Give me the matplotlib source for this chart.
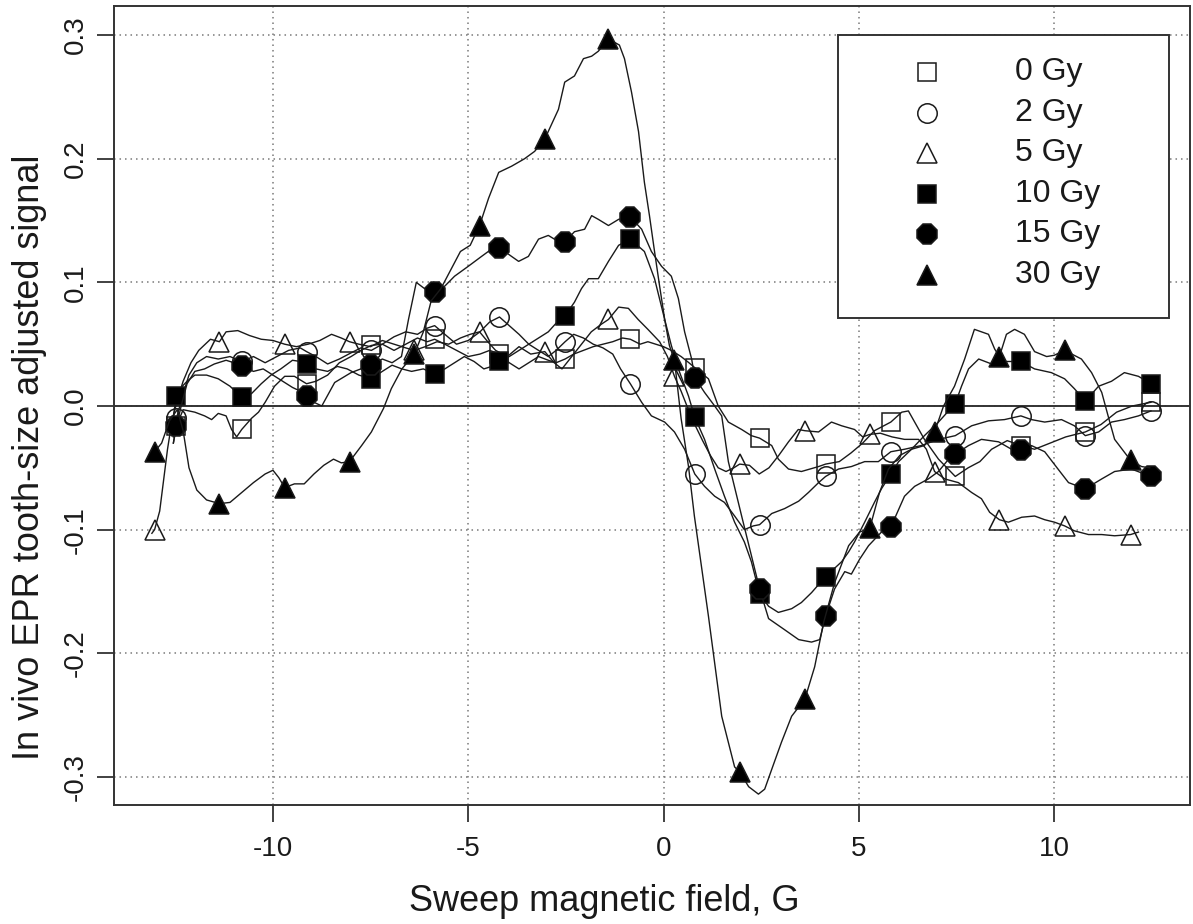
import numpy as np
import matplotlib
matplotlib.use('Agg')
import matplotlib.pyplot as plt
from matplotlib.patches import Rectangle

plt.rcParams['font.family'] = ['Liberation Sans', 'DejaVu Sans']

doses = ['0 Gy', '2 Gy', '5 Gy', '10 Gy', '15 Gy', '30 Gy']

# field positions where symbols sit (5/30 Gy share one grid, the rest the other)
marks_a = [-13.03, -11.37, -9.7, -8.04, -6.38, -4.71, -3.04, -1.41, 0.28, 1.95,
           3.62, 5.28, 6.94, 8.6, 10.27, 11.96]
marks_b = [-12.47, -10.8, -9.14, -7.48, -5.86, -4.2, -2.52, -0.85, 0.8, 2.46,
           4.15, 5.82, 7.47, 9.15, 10.8, 12.48]

field_0 = [-12.55, -12.47, -12.3, -12.15, -12.0, -11.75, -11.57, -11.4, -11.2, -11.06,
           -10.93, -10.8, -10.55, -10.37, -10.2, -9.96, -9.7, -9.45, -9.14, -8.9,
           -8.6, -8.3, -8.0, -7.75, -7.48, -7.2, -6.9, -6.6, -6.3, -6.05,
           -5.86, -5.6, -5.3, -5.0, -4.7, -4.45, -4.2, -3.95, -3.7, -3.45,
           -3.2, -2.95, -2.75, -2.52, -2.3, -2.05, -1.8, -1.55, -1.3, -1.05,
           -0.85, -0.6, -0.4, -0.2, 0.0, 0.2, 0.45, 0.65, 0.8, 1.15,
           1.4, 1.66, 2.0, 2.25, 2.46, 2.77, 2.94, 3.2, 3.53, 3.97,
           4.15, 4.5, 4.8, 5.1, 5.4, 5.82, 6.1, 6.27, 6.43, 6.68,
           7.04, 7.47, 7.8, 8.1, 8.4, 8.8, 9.15, 9.5, 9.9, 10.3,
           10.8, 11.2, 11.6, 12.0, 12.48]
signal_0 = [-0.03, -0.016, -0.003, -0.004, -0.005, -0.008, -0.011, -0.006, -0.008, -0.019,
            -0.025, -0.019, -0.01, -0.005, 0.003, 0.016, 0.024, 0.024, 0.018, 0.02,
            0.025, 0.035, 0.04, 0.045, 0.049, 0.05, 0.045, 0.05, 0.055, 0.052,
            0.054, 0.05, 0.045, 0.04, 0.042, 0.045, 0.042, 0.035, 0.03, 0.035,
            0.04, 0.037, 0.035, 0.038, 0.042, 0.045, 0.048, 0.05, 0.052, 0.055,
            0.054, 0.05, 0.052, 0.05, 0.048, 0.045, 0.04, 0.035, 0.031, 0.022,
            0.0, -0.013, -0.019, -0.024, -0.026, -0.032, -0.043, -0.051, -0.053, -0.049,
            -0.047, -0.045, -0.038, -0.03, -0.02, -0.013, -0.005, -0.004, -0.013, -0.027,
            -0.043, -0.057, -0.05, -0.045, -0.035, -0.028, -0.032, -0.035, -0.03, -0.025,
            -0.021, -0.015, -0.005, 0.0, 0.003]

field_2 = [-12.55, -12.47, -12.3, -12.15, -11.95, -11.7, -11.4, -11.1, -10.8, -10.5,
           -10.2, -9.9, -9.6, -9.3, -9.14, -8.9, -8.6, -8.3, -8.0, -7.75,
           -7.48, -7.2, -6.9, -6.6, -6.3, -6.05, -5.86, -5.6, -5.3, -5.0,
           -4.7, -4.45, -4.2, -3.95, -3.7, -3.45, -3.2, -2.95, -2.75, -2.52,
           -2.3, -2.05, -1.8, -1.55, -1.3, -1.1, -0.85, -0.56, -0.31, 0.03,
           0.28, 0.54, 0.8, 1.05, 1.31, 1.56, 1.82, 2.07, 2.3, 2.46,
           2.77, 3.1, 3.46, 3.71, 3.97, 4.15, 4.48, 4.81, 5.15, 5.5,
           5.82, 6.17, 6.6, 7.04, 7.47, 7.89, 8.32, 8.73, 9.15, 9.42,
           9.76, 10.19, 10.52, 10.8, 11.14, 11.47, 11.8, 12.16, 12.48]
signal_2 = [-0.025, -0.01, 0.01, 0.025, 0.035, 0.04, 0.038, 0.04, 0.036, 0.04,
            0.035, 0.04, 0.045, 0.047, 0.044, 0.04, 0.034, 0.038, 0.043, 0.047,
            0.045, 0.05, 0.056, 0.06, 0.058, 0.063, 0.065, 0.058, 0.05, 0.053,
            0.06, 0.068, 0.072, 0.065, 0.058, 0.05, 0.045, 0.04, 0.045, 0.052,
            0.058, 0.055, 0.05, 0.047, 0.042, 0.03, 0.018, 0.003, -0.008, -0.013,
            -0.021, -0.035, -0.055, -0.065, -0.073, -0.078, -0.089, -0.1, -0.097, -0.096,
            -0.087, -0.083, -0.077, -0.07, -0.062, -0.057, -0.051, -0.049, -0.045, -0.045,
            -0.037, -0.035, -0.032, -0.027, -0.024, -0.016, -0.012, -0.011, -0.008, -0.011,
            -0.013, -0.011, -0.016, -0.024, -0.021, -0.013, -0.011, -0.008, -0.004]

field_5 = [-13.1, -13.03, -12.9, -12.8, -12.7, -12.6, -12.45, -12.3, -12.1, -11.9,
           -11.6, -11.37, -11.2, -10.9, -10.6, -10.3, -10.0, -9.7, -9.4, -9.1,
           -8.8, -8.5, -8.25, -8.04, -7.8, -7.5, -7.2, -6.9, -6.6, -6.38,
           -6.1, -5.8, -5.5, -5.2, -4.95, -4.71, -4.5, -4.3, -4.0, -3.7,
           -3.4, -3.04, -2.8, -2.6, -2.35, -2.1, -1.85, -1.6, -1.41, -1.15,
           -0.9, -0.65, -0.4, -0.1, 0.1, 0.28, 0.45, 0.6, 0.8, 1.0,
           1.2, 1.4, 1.6, 1.8, 1.95, 2.2, 2.45, 2.7, 2.95, 3.2,
           3.45, 3.62, 3.97, 4.3, 4.56, 4.89, 5.1, 5.28, 5.55, 5.85,
           6.17, 6.53, 6.73, 6.94, 7.2, 7.55, 7.89, 8.14, 8.35, 8.6,
           8.83, 9.17, 9.5, 9.76, 10.01, 10.27, 10.52, 10.88, 11.22, 11.55,
           11.96, 12.16]
signal_5 = [-0.103, -0.1, -0.085, -0.06, -0.035, -0.015, 0.005, 0.02, 0.035, 0.045,
            0.054, 0.052, 0.06, 0.061, 0.057, 0.054, 0.053, 0.05, 0.048, 0.05,
            0.053, 0.058, 0.055, 0.052, 0.05, 0.048, 0.053, 0.05, 0.047, 0.045,
            0.048, 0.052, 0.05, 0.055, 0.058, 0.06, 0.052, 0.045, 0.04, 0.048,
            0.042, 0.044, 0.035, 0.03, 0.04, 0.05, 0.06, 0.066, 0.07, 0.08,
            0.079, 0.07, 0.062, 0.052, 0.04, 0.024, 0.012, 0.0, -0.015, -0.028,
            -0.04, -0.05, -0.053, -0.05, -0.047, -0.048, -0.055, -0.05, -0.04, -0.029,
            -0.019, -0.02, -0.021, -0.013, -0.016, -0.019, -0.025, -0.023, -0.022, -0.025,
            -0.027, -0.027, -0.035, -0.053, -0.059, -0.062, -0.07, -0.075, -0.086, -0.092,
            -0.094, -0.09, -0.089, -0.092, -0.094, -0.097, -0.101, -0.104, -0.104, -0.105,
            -0.104, -0.102]

field_10 = [-12.55, -12.47, -12.35, -12.2, -12.0, -11.7, -11.4, -11.1, -10.8, -10.55,
            -10.3, -10.05, -9.8, -9.5, -9.3, -9.14, -8.9, -8.6, -8.35, -8.1,
            -7.8, -7.48, -7.2, -6.95, -6.7, -6.45, -6.15, -5.86, -5.6, -5.35,
            -5.1, -4.85, -4.6, -4.4, -4.2, -3.95, -3.7, -3.45, -3.2, -2.95,
            -2.75, -2.52, -2.28, -2.1, -1.92, -1.67, -1.41, -1.15, -0.85, -0.49,
            -0.23, 0.03, 0.2, 0.38, 0.64, 0.8, 1.05, 1.31, 1.56, 1.82,
            2.07, 2.25, 2.46, 2.69, 2.94, 3.28, 3.53, 3.79, 4.15, 4.56,
            4.74, 4.89, 5.15, 5.4, 5.58, 5.82, 6.02, 6.35, 6.68, 7.04,
            7.47, 7.63, 7.81, 8.07, 8.4, 8.73, 9.15, 9.5, 9.93, 10.27,
            10.52, 10.8, 11.14, 11.47, 11.8, 12.16, 12.48]
signal_10 = [-0.008, 0.008, 0.015, 0.02, 0.025, 0.025, 0.022, 0.016, 0.007, 0.01,
             0.018, 0.025, 0.03, 0.037, 0.036, 0.034, 0.03, 0.028, 0.032, 0.03,
             0.025, 0.022, 0.028, 0.033, 0.03, 0.028, 0.03, 0.026, 0.03, 0.035,
             0.04, 0.036, 0.03, 0.032, 0.036, 0.04, 0.045, 0.05, 0.055, 0.06,
             0.067, 0.073, 0.084, 0.095, 0.103, 0.103, 0.117, 0.13, 0.135, 0.125,
             0.103, 0.07, 0.049, 0.03, 0.008, -0.009, -0.027, -0.051, -0.073, -0.094,
             -0.11, -0.126, -0.152, -0.162, -0.167, -0.164, -0.159, -0.151, -0.138, -0.126,
             -0.118, -0.11, -0.094, -0.078, -0.067, -0.055, -0.045, -0.035, -0.024, -0.013,
             0.002, 0.016, 0.03, 0.038, 0.034, 0.036, 0.036, 0.03, 0.027, 0.022,
             0.014, 0.004, 0.016, 0.02, 0.027, 0.024, 0.018]

field_15 = [-12.55, -12.47, -12.35, -12.2, -12.0, -11.75, -11.5, -11.2, -11.0, -10.8,
            -10.5, -10.25, -10.0, -9.75, -9.5, -9.3, -9.14, -8.95, -8.75, -8.42,
            -8.0, -7.75, -7.48, -7.2, -6.95, -6.71, -6.53, -6.33, -6.12, -5.86,
            -5.6, -5.35, -5.0, -4.66, -4.4, -4.2, -3.89, -3.71, -3.46, -3.2,
            -2.95, -2.69, -2.52, -2.28, -2.02, -1.84, -1.67, -1.41, -1.15, -0.85,
            -0.56, -0.31, -0.05, 0.2, 0.38, 0.54, 0.72, 0.8, 1.05, 1.31,
            1.49, 1.66, 2.0, 2.25, 2.46, 2.69, 3.1, 3.46, 3.79, 4.0,
            4.15, 4.38, 4.64, 4.81, 5.02, 5.25, 5.58, 5.82, 6.17, 6.43,
            6.78, 7.04, 7.3, 7.47, 7.81, 8.14, 8.58, 8.91, 9.15, 9.42,
            9.76, 10.1, 10.37, 10.8, 11.22, 11.55, 11.98, 12.48]
signal_15 = [-0.03, -0.016, 0.0, 0.018, 0.028, 0.03, 0.034, 0.037, 0.035, 0.032,
             0.028, 0.03, 0.025, 0.02, 0.015, 0.012, 0.008, 0.003, 0.0, 0.019,
             0.027, 0.03, 0.033, 0.038, 0.035, 0.04, 0.07, 0.1, 0.095, 0.092,
             0.097, 0.105, 0.113, 0.121, 0.127, 0.128, 0.121, 0.117, 0.121, 0.135,
             0.138, 0.133, 0.133, 0.141, 0.143, 0.154, 0.151, 0.146, 0.151, 0.153,
             0.143, 0.125, 0.113, 0.105, 0.087, 0.06, 0.038, 0.023, 0.011, 0.0,
             -0.008, -0.045, -0.089, -0.121, -0.148, -0.172, -0.181, -0.189, -0.191, -0.189,
             -0.17, -0.148, -0.134, -0.136, -0.124, -0.113, -0.102, -0.098, -0.073, -0.065,
             -0.059, -0.053, -0.043, -0.039, -0.032, -0.027, -0.029, -0.035, -0.036, -0.032,
             -0.037, -0.051, -0.062, -0.067, -0.059, -0.053, -0.051, -0.057]

field_30 = [-13.15, -13.03, -12.85, -12.65, -12.45, -12.3, -12.15, -11.95, -11.7, -11.37,
            -11.1, -10.8, -10.5, -10.2, -10.0, -9.85, -9.7, -9.45, -9.2, -8.95,
            -8.7, -8.45, -8.25, -8.04, -7.73, -7.48, -7.17, -6.97, -6.7, -6.38,
            -6.15, -5.95, -5.7, -5.45, -5.2, -4.95, -4.71, -4.48, -4.22, -3.89,
            -3.56, -3.3, -3.04, -2.69, -2.53, -2.28, -2.05, -1.84, -1.67, -1.41,
            -1.13, -1.0, -0.82, -0.64, -0.49, -0.36, -0.23, -0.1, 0.03, 0.15,
            0.28, 0.45, 0.64, 0.79, 1.15, 1.49, 1.82, 1.95, 2.18, 2.43,
            2.59, 2.77, 3.02, 3.28, 3.62, 3.87, 4.1, 4.38, 4.74, 5.02,
            5.28, 5.53, 5.76, 6.05, 6.35, 6.68, 6.94, 7.17, 7.45, 7.71,
            7.96, 8.32, 8.48, 8.6, 8.78, 8.99, 9.24, 9.5, 9.81, 10.0,
            10.27, 10.7, 10.96, 11.22, 11.4, 11.55, 11.96, 12.24, 12.45]
signal_30 = [-0.04, -0.037, -0.03, -0.012, -0.003, -0.02, -0.05, -0.068, -0.076, -0.079,
             -0.078, -0.07, -0.062, -0.055, -0.052, -0.058, -0.066, -0.063, -0.063, -0.055,
             -0.048, -0.043, -0.046, -0.045, -0.032, -0.021, -0.002, 0.014, 0.03, 0.042,
             0.06, 0.085, 0.095, 0.11, 0.125, 0.13, 0.146, 0.168, 0.189, 0.194,
             0.2, 0.206, 0.216, 0.24, 0.262, 0.267, 0.281, 0.283, 0.287, 0.297,
             0.292, 0.281, 0.254, 0.222, 0.181, 0.154, 0.125, 0.097, 0.07, 0.049,
             0.037, -0.01, -0.049, -0.089, -0.17, -0.251, -0.292, -0.296, -0.308, -0.314,
             -0.31, -0.294, -0.272, -0.251, -0.237, -0.211, -0.175, -0.143, -0.113, -0.102,
             -0.099, -0.07, -0.051, -0.04, -0.035, -0.032, -0.021, 0.0, 0.016, 0.038,
             0.062, 0.058, 0.046, 0.04, 0.058, 0.062, 0.058, 0.044, 0.04, 0.041,
             0.045, 0.038, 0.027, 0.011, -0.01, -0.027, -0.044, -0.049, -0.05]

x_ticks = [-10, -5, 0, 5, 10]
y_ticks = [-0.3, -0.2, -0.1, 0.0, 0.1, 0.2, 0.3]
y_tick_labels = ['-0.3', '-0.2', '-0.1', '0.0', '0.1', '0.2', '0.3']

series = [
    (field_0, signal_0, marks_b, dict(marker='s', ms=13, mfc='none')),
    (field_2, signal_2, marks_b, dict(marker='o', ms=14, mfc='none')),
    (field_5, signal_5, marks_a, dict(marker='^', ms=15, mfc='none')),
    (field_10, signal_10, marks_b, dict(marker='s', ms=13, mfc='black')),
    (field_15, signal_15, marks_b, dict(marker='8', ms=15, mfc='black')),
    (field_30, signal_30, marks_a, dict(marker='^', ms=15, mfc='black')),
]

ink = '#1a1a1a'
fig = plt.figure(figsize=(11.93, 9.24), dpi=100)
ax = fig.add_axes([114 / 1193, 1 - 805 / 924, 1076 / 1193, 799 / 924])

for fx, fy, marks, st in series:
    fx = np.asarray(fx)
    every = np.isin(fx, marks)
    ax.plot(fx, fy, color=ink, lw=1.0, mec=ink, mew=1.1, markevery=every,
            zorder=3, **st)

ax.axhline(0, color='#333333', lw=1.4, zorder=2)

ax.set_xlim(-14.07, 13.48)
ax.set_ylim(-0.3228, 0.3236)
ax.set_xticks(x_ticks)
ax.set_xticklabels([str(t) for t in x_ticks])
ax.set_yticks(y_ticks)
ax.set_yticklabels(y_tick_labels, rotation=90, va='center')
ax.tick_params(direction='out', length=12, width=1.3, colors='#333333',
               labelcolor=ink, labelsize=20)
ax.tick_params(axis='x', pad=10)
ax.tick_params(axis='y', pad=6)
for s in ax.spines.values():
    s.set_linewidth(1.4)
    s.set_color('#333333')

ax.grid(True, color='#7a7a7a', lw=1.1, linestyle=(0, (1, 2.6)), zorder=1)

ax.set_xlabel('Sweep magnetic field, G', fontsize=26, color=ink)
ax.set_ylabel('In vivo EPR tooth-size adjusted signal', fontsize=26, color=ink)
ax.xaxis.set_label_coords(0.456, -0.099)
ax.yaxis.set_label_coords(-0.062, 0.4355)

# legend box drawn by hand so the symbol/text columns sit where wanted
ax.add_patch(Rectangle((0.673, 0.6095), 0.3075, 0.3542, transform=ax.transAxes,
                       fc='white', ec='#333333', lw=1.4, zorder=6))
row0, step = 0.9174, 0.0508
for i, (label, (_, _, _, st)) in enumerate(zip(doses, series)):
    yy = row0 - i * step
    ax.plot([0.7556], [yy], transform=ax.transAxes, color=ink, mec=ink, mew=1.1,
            zorder=7, clip_on=False, **st)
    ax.text(0.8374, yy, label, transform=ax.transAxes, fontsize=23, color=ink,
            va='center', ha='left', zorder=7)

fig.savefig('out.png', dpi=100)
